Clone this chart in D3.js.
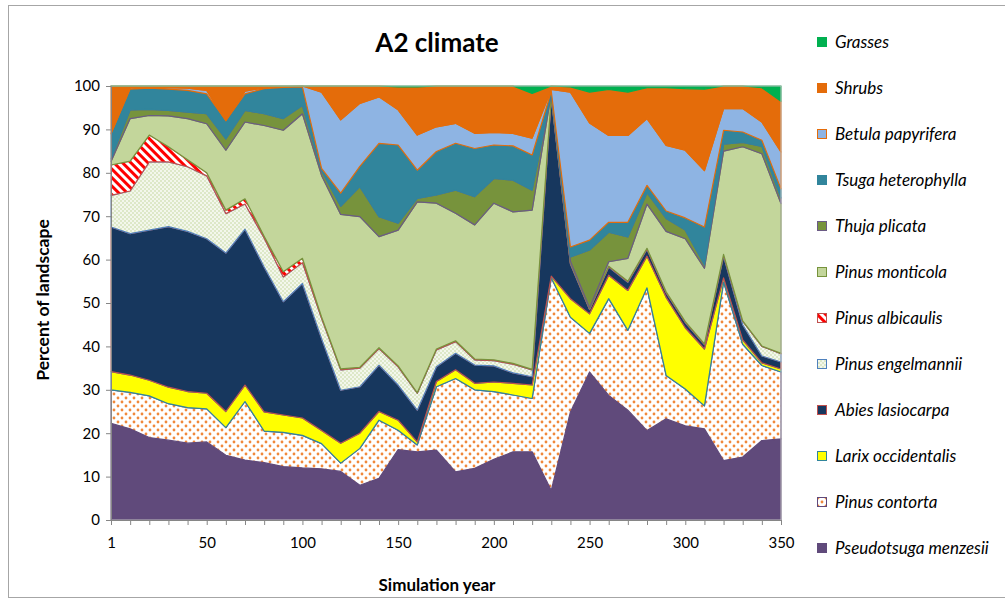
<!DOCTYPE html>
<html>
<head>
<meta charset="utf-8">
<script src="https://cdn.jsdelivr.net/npm/d3@7/dist/d3.min.js"></script>
<style>
  html, body { margin: 0; padding: 0; background: #fff; }
  svg { display: block; }
  text { font-family: Lato, "Open Sans", "Liberation Sans", sans-serif; }
</style>
</head>
<body>
<svg id="chart" width="1005" height="601"></svg>
<script>
// ---------- DATA ----------
const years = [1,10,20,30,40,50,60,70,80,90,100,110,120,130,140,150,160,170,180,190,200,210,220,230,240,250,260,270,280,290,300,310,320,330,340,350];
const xTickLabels = [1,50,100,150,200,250,300,350];
const yTickLabels = [0,10,20,30,40,50,60,70,80,90,100];

const pseudotsuga = [22.3,21.0,19.0,18.4,17.7,18.0,14.9,13.8,13.2,12.3,12.0,11.8,11.2,8.0,9.6,16.2,15.7,16.1,11.1,11.9,14.0,15.7,15.7,6.8,24.9,34.1,28.7,25.3,20.6,23.3,21.7,21.0,13.7,14.5,18.3,18.7];
const contorta    = [7.7,8.4,9.6,8.4,8.2,7.6,6.4,13.5,7.3,7.9,7.5,5.8,1.9,8.5,13.4,4.5,1.6,14.6,21.5,18.1,15.6,13.1,12.3,49.0,21.8,8.9,22.3,18.4,32.9,10.0,8.5,5.3,41.1,26.0,17.3,15.4];
const larix       = [4.2,4.0,3.6,3.8,3.7,3.6,3.7,3.8,4.4,4.0,4.0,3.0,4.6,3.5,2.0,2.3,0.7,1.2,2.0,1.5,2.2,2.7,3.1,0.4,4.3,4.5,5.4,9.2,7.3,18.0,14.1,13.1,1.0,1.0,0.6,0.7];
const abies       = [33.3,32.6,34.6,37.0,36.9,35.6,36.5,35.9,33.4,26.1,31.0,21.2,12.2,10.7,10.7,8.1,7.3,3.4,3.8,4.2,3.7,2.4,1.9,41.1,8.0,1.0,1.9,1.9,1.6,1.1,1.2,1.0,5.0,3.5,1.6,1.6];
const engelmannii = [7.3,9.8,15.7,14.9,14.9,14.5,9.1,5.8,6.7,5.7,4.8,4.7,4.7,4.3,3.8,4.2,3.9,3.9,2.7,1.2,1.2,2.0,1.6,0.3,0.2,0.1,0.1,0.1,0.1,0.1,0.1,0.1,0.3,0.8,2.2,1.9];
const albicaulis  = [7.0,6.9,6.2,3.5,1.6,0.7,0.8,1.2,0.4,1.2,1.0,0.3,0.2,0.2,0.2,0.2,0.1,0.2,0.2,0.2,0.2,0.2,0.1,0.1,0.1,0.1,0.1,0.1,0.1,0.1,0.1,0.1,0.1,0.1,0.1,0.1];
const monticola   = [0.8,9.8,4.5,7.1,9.5,11.3,13.8,17.7,25.5,32.6,33.3,32.6,35.6,34.7,25.6,31.3,44.0,33.6,29.4,30.9,36.1,34.9,36.7,0.6,0.3,0.2,1.0,5.3,10.2,13.9,19.1,17.4,23.8,40.1,44.3,34.5];
const thuja       = [0.6,2.0,1.4,1.3,1.5,2.3,2.6,2.7,2.7,2.7,1.9,1.1,1.9,6.9,4.6,1.6,0.8,1.9,5.3,6.5,5.7,7.3,4.6,0.2,1.0,13.3,6.8,4.9,2.6,3.0,2.0,0.8,1.6,1.0,1.7,1.3];
const tsuga       = [5.8,4.8,4.9,4.9,5.0,4.6,4.2,3.8,5.8,7.2,4.3,0.5,3.0,4.7,16.9,18.0,6.5,10.0,10.8,11.1,7.7,7.9,8.1,0.3,2.3,2.3,2.3,3.4,1.7,1.7,2.8,8.7,3.2,2.4,1.4,2.1];
const betula      = [0.0,0.3,0.2,0.3,0.5,0.8,0.0,0.6,0.2,0.1,0.2,17.6,16.9,14.5,10.7,8.1,8.1,5.7,4.6,3.5,2.9,2.9,3.9,0.4,35.7,27.0,20.0,20.0,15.4,15.1,15.6,13.0,5.0,5.4,4.2,8.5];
const shrubs      = [11.0,0.4,0.3,0.4,0.5,1.0,8.0,1.2,0.4,0.2,0.0,1.4,7.8,4.0,2.5,5.3,11.1,9.4,8.6,10.9,10.7,10.9,10.3,0.8,1.2,7.1,10.6,10.0,7.1,13.3,14.2,18.8,5.2,5.2,7.9,11.7];
const grasses     = [0,0,0,0,0,0,0,0,0,0,0,0,0,0,0,0.2,0.2,0,0,0,0,0,1.7,0,0.2,1.4,0.8,1.4,0.4,0.4,0.6,0.7,0,0,0.4,3.5];

const seriesNames = ["Pseudotsuga menzesii","Pinus contorta","Larix occidentalis","Abies lasiocarpa","Pinus engelmannii","Pinus albicaulis","Pinus monticola","Thuja plicata","Tsuga heterophylla","Betula papyrifera","Shrubs","Grasses"];
const seriesValues = [pseudotsuga,contorta,larix,abies,engelmannii,albicaulis,monticola,thuja,tsuga,betula,shrubs,grasses];

// ---------- STYLES ----------
const fills   = ["#604A7B","url(#patContorta)","#FFFF00","#17375E","url(#patEngel)","url(#patAlbi)","#C3D69B","#77933C","#31859C","#8EB4E3","#E46C0A","#00B050"];
const strokes = ["#604A7B","#604A7B","#31859C","#C0504D","#4F81BD","#C0504D","#77933C","#6B5B85","#31859C","#E46C0A","#E46C0A","#00B050"];

const svg = d3.select("#chart");
const defs = svg.append("defs");

// contorta: orange dots on white
const pc = defs.append("pattern").attr("id","patContorta").attr("patternUnits","userSpaceOnUse").attr("width",8).attr("height",8);
pc.append("rect").attr("width",8).attr("height",8).attr("fill","#fff");
pc.append("circle").attr("cx",2).attr("cy",2).attr("r",1.4).attr("fill","#F0883A");
pc.append("circle").attr("cx",6).attr("cy",6).attr("r",1.4).attr("fill","#F0883A");

// engelmannii: pale small checker
const pe = defs.append("pattern").attr("id","patEngel").attr("patternUnits","userSpaceOnUse").attr("width",4).attr("height",4);
pe.append("rect").attr("width",4).attr("height",4).attr("fill","#F3F7EC");
pe.append("rect").attr("width",2).attr("height",2).attr("fill","#DDE8C8");
pe.append("rect").attr("x",2).attr("y",2).attr("width",2).attr("height",2).attr("fill","#DDE8C8");

// albicaulis: red / white diagonal stripes
const pa = defs.append("pattern").attr("id","patAlbi").attr("patternUnits","userSpaceOnUse").attr("width",6).attr("height",6).attr("patternTransform","rotate(-45)");
pa.append("rect").attr("width",6).attr("height",6).attr("fill","#fff");
pa.append("rect").attr("width",3).attr("height",6).attr("fill","#FF0000");

// ---------- LAYOUT ----------
const x0 = 111, x1 = 781, yTop = 86, yBot = 520;
const x = d3.scalePoint().domain(years).range([x0, x1]);
const y = d3.scaleLinear().domain([0,100]).range([yBot, yTop]);

// outer chart border
svg.append("rect").attr("x",8.5).attr("y",5.5).attr("width",1010).attr("height",592).attr("fill","none").attr("stroke","#A6A6A6").attr("stroke-width",1);

// stacked data
const table = years.map((yr,i) => {
  const row = {year: yr};
  seriesNames.forEach((n,k) => row[n] = seriesValues[k][i]);
  return row;
});
const stack = d3.stack().keys(seriesNames);
const layers = stack(table);

const area = d3.area()
  .x(d => x(d.data.year))
  .y0(d => y(d[0]))
  .y1(d => y(Math.min(100, d[1])));

const g = svg.append("g");
g.selectAll("path.layer").data(layers).join("path")
  .attr("class","layer")
  .attr("d", area)
  .attr("fill", (d,k) => fills[k])
  .attr("stroke", (d,k) => strokes[k])
  .attr("stroke-width", 1.2)
  .attr("stroke-linejoin","round");

// plot border (top/right)
svg.append("rect").attr("x",x0).attr("y",yTop).attr("width",x1-x0).attr("height",yBot-yTop)
  .attr("fill","none").attr("stroke","#BFBFBF").attr("stroke-width",1);

// axes
const yAxis = d3.axisLeft(y).tickValues(yTickLabels).tickSize(5).tickPadding(6);
const yG = svg.append("g").attr("transform",`translate(${x0},0)`).call(yAxis);
const xAxis = d3.axisBottom(x).tickValues(years).tickSize(5).tickPadding(12)
  .tickFormat(d => xTickLabels.includes(d) ? d : "");
const xG = svg.append("g").attr("transform",`translate(0,${yBot})`).call(xAxis);
[yG,xG].forEach(a => {
  a.selectAll("path.domain").attr("stroke","#868686");
  a.selectAll(".tick line").attr("stroke","#868686");
  a.selectAll(".tick text").attr("fill","#000").style("font-size","15px").style("font-family","Lato, 'Open Sans', sans-serif");
});

// titles
svg.append("text").attr("x",437).attr("y",52).attr("text-anchor","middle")
  .style("font-size","26px").style("font-weight","bold").text("A2 climate");
svg.append("text").attr("x",437).attr("y",591).attr("text-anchor","middle")
  .style("font-size","17px").style("font-weight","bold").text("Simulation year");
svg.append("text").attr("transform","translate(49,300) rotate(-90)").attr("text-anchor","middle")
  .style("font-size","17.5px").style("font-weight","bold").text("Percent of landscape");

// legend (top = Grasses)
const legendOrder = seriesNames.map((n,k) => k).reverse();
const lg = svg.append("g");
legendOrder.forEach((k,j) => {
  const cy = 42 + j*46;
  lg.append("rect").attr("x",817.5).attr("y",cy-4.5).attr("width",9).attr("height",9)
    .attr("fill",fills[k]).attr("stroke",strokes[k]).attr("stroke-width",1);
  lg.append("text").attr("x",835).attr("y",cy).attr("dy","0.35em")
    .style("font-size","17px").style("font-style","italic").text(seriesNames[k]);
});
</script>
</body>
</html>
